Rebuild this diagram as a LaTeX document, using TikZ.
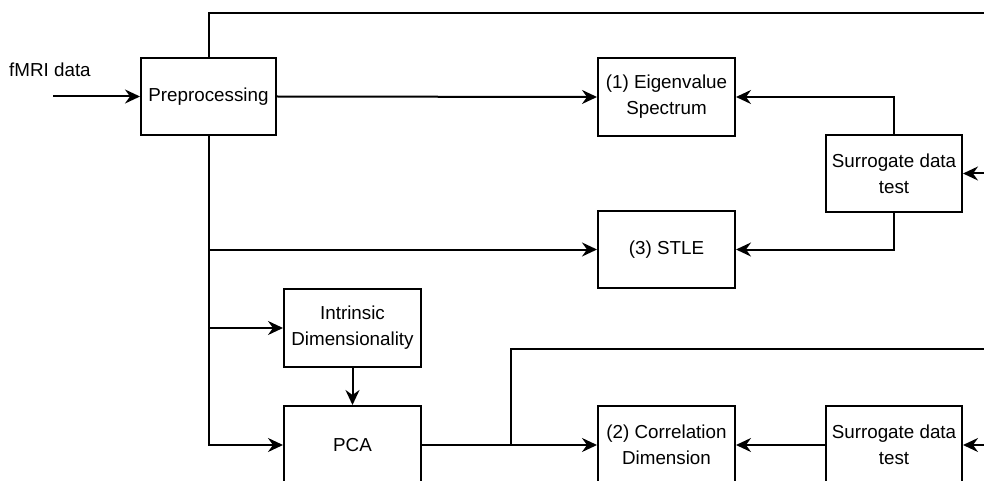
\documentclass[tikz,border=0pt]{standalone}
\usepackage{fontspec}
\setmainfont{Liberation Sans}
\usetikzlibrary{arrows.meta}
\begin{document}
\begin{tikzpicture}[x=1pt,y=-1pt,
  box/.style={draw,line width=2pt,minimum width=137pt,minimum height=78pt,inner sep=0pt,align=center,font=\fontsize{18.8}{26}\selectfont},
  wire/.style={line width=2pt},
  arr/.style={wire,-{Stealth[length=15pt,width=14pt,inset=5pt]}},
  lbl/.style={font=\fontsize{18.8}{26}\selectfont,inner sep=0pt}]
\useasboundingbox (0,0) rectangle (984,481);
\clip (0,0) rectangle (984,481);
% nodes
\node[box,minimum width=135pt,minimum height=77pt] (pre) at (208.5,96.5) {Preprocessing};
\node[box] (eig) at (666.5,97) {(1) Eigenvalue\\Spectrum};
\node[box,minimum width=136pt,minimum height=77pt] (sur1) at (894,173.5) {Surrogate data\\test};
\node[box,minimum height=77pt] (stle) at (666.5,249.5) {(3) STLE};
\node[box] (intr) at (352.5,328) {Intrinsic\\Dimensionality};
\node[box] (pca) at (352.5,445) {PCA};
\node[box] (corr) at (666.5,445) {(2) Correlation\\Dimension};
\node[box,minimum width=136pt] (sur2) at (894,445) {Surrogate data\\test};
\node[lbl,anchor=west] (fmri) at (9,70) {fMRI data};
% free ends
\coordinate (in) at (53,96.5);
\coordinate (top) at (995,13);
\coordinate (r1) at (995,173.5);
\coordinate (r2) at (995,445);
\coordinate (r3) at (995,349);
\coordinate (br) at (511,445);
% connectors
\draw[arr] (in) -- (pre.west);
\draw[wire] (pre.north) |- (top);
\draw[arr] (pre.east) -- (eig.west);
\draw[arr] (pre.south) |- (stle.west);
\draw[arr] (pre.south) |- (intr.west);
\draw[arr] (pre.south) |- (pca.west);
\draw[arr] (intr.south) -- (pca.north);
\draw[arr] (pca.east) -- (corr.west);
\draw[wire] (br) |- (r3);
\draw[arr] (r1) -- (sur1.east);
\draw[arr] (sur1.north) |- (eig.east);
\draw[arr] (sur1.south) |- (stle.east);
\draw[arr] (r2) -- (sur2.east);
\draw[arr] (sur2.west) -- (corr.east);
\end{tikzpicture}
\end{document}
